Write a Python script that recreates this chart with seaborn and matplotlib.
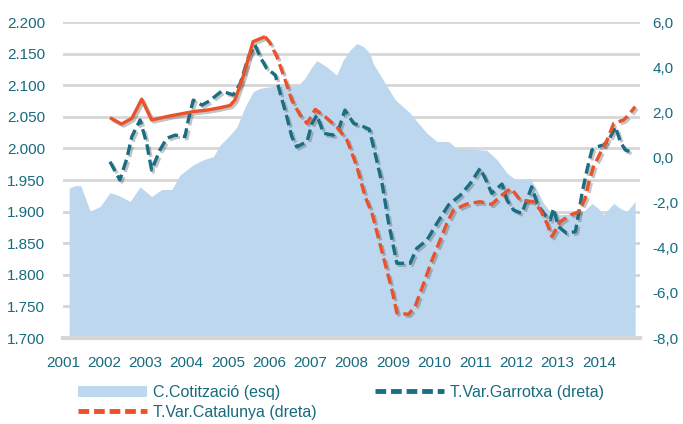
"""
Quota de cotitzacio (esq) i taxes de variacio Garrotxa / Catalunya (dreta)
2001 - 2014
"""

# ==========================================================
# IMPORT LIBRARIES
# ==========================================================

import pandas as pd
import matplotlib.pyplot as plt
import matplotlib.patheffects as pe
from matplotlib.patches import Patch
from matplotlib.lines import Line2D
from matplotlib.ticker import MultipleLocator
import seaborn as sns

# ==========================================================
# DATA
# ==========================================================

# C.Cotitzacio - left axis
cot_year = [2001.15, 2001.29, 2001.43, 2001.66, 2001.90, 2002.14, 2002.34, 2002.63,
            2002.87, 2003.15, 2003.40, 2003.64, 2003.84, 2004.16, 2004.41, 2004.65,
            2004.81, 2005.05, 2005.22, 2005.42, 2005.62, 2005.78, 2006.07, 2006.31,
            2006.51, 2006.71, 2006.87, 2007.04, 2007.16, 2007.40, 2007.64, 2007.80,
            2007.97, 2008.13, 2008.29, 2008.45, 2008.52, 2008.77, 2009.06, 2009.42,
            2009.62, 2009.83, 2010.07, 2010.35, 2010.56, 2010.88, 2011.28, 2011.53,
            2011.77, 2011.93, 2012.09, 2012.33, 2012.50, 2012.66, 2012.82, 2013.06,
            2013.39, 2013.63, 2013.83, 2013.99, 2014.11, 2014.36, 2014.52, 2014.68,
            2014.88]
cot_value = [1.937, 1.941, 1.941, 1.901, 1.908, 1.930, 1.926, 1.916,
             1.939, 1.924, 1.935, 1.935, 1.958, 1.974, 1.982, 1.987,
             2.005, 2.021, 2.034, 2.066, 2.090, 2.095, 2.098, 2.103,
             2.098, 2.100, 2.111, 2.129, 2.139, 2.129, 2.116, 2.140,
             2.156, 2.166, 2.161, 2.150, 2.135, 2.108, 2.077, 2.056,
             2.040, 2.024, 2.011, 2.011, 2.000, 1.999, 1.997, 1.982,
             1.961, 1.953, 1.950, 1.953, 1.934, 1.913, 1.900, 1.895,
             1.897, 1.900, 1.913, 1.905, 1.895, 1.913, 1.905, 1.900,
             1.916]

# T.Var.Garrotxa - right axis
gar_year = [2002.14, 2002.38, 2002.55, 2002.67, 2002.87, 2003.03, 2003.15, 2003.35,
            2003.52, 2003.72, 2003.96, 2004.04, 2004.16, 2004.37, 2004.55, 2004.85,
            2005.13, 2005.30, 2005.50, 2005.66, 2005.78, 2005.94, 2006.15, 2006.27,
            2006.43, 2006.55, 2006.67, 2006.92, 2007.04, 2007.16, 2007.32, 2007.56,
            2007.68, 2007.84, 2008.05, 2008.29, 2008.43, 2008.57, 2008.74, 2008.90,
            2009.10, 2009.42, 2009.58, 2009.83, 2010.07, 2010.35, 2010.64, 2010.88,
            2011.12, 2011.28, 2011.40, 2011.53, 2011.65, 2011.77, 2011.93, 2012.13,
            2012.37, 2012.50, 2012.66, 2012.82, 2012.90, 2013.02, 2013.22, 2013.43,
            2013.51, 2013.59, 2013.71, 2013.83, 2013.95, 2014.11, 2014.24, 2014.40,
            2014.52, 2014.64, 2014.84]
gar_value = [-0.19, -1.00, -0.04, 0.92, 1.66, 0.63, -0.56, 0.33,
             0.85, 0.99, 0.92, 1.66, 2.54, 2.32, 2.50, 2.94,
             2.77, 3.28, 4.46, 4.98, 4.46, 3.95, 3.65, 2.84,
             1.80, 0.92, 0.47, 0.70, 1.51, 1.88, 1.07, 0.99,
             1.21, 2.10, 1.51, 1.36, 1.25, 0.18, -1.15, -2.92,
             -4.69, -4.69, -4.03, -3.66, -2.92, -2.11, -1.67, -1.15,
             -0.48, -1.08, -1.59, -1.37, -1.18, -1.89, -2.33, -2.48,
             -1.30, -2.03, -2.48, -2.77, -2.26, -3.07, -3.36, -3.29,
             -2.48, -1.59, -0.56, 0.33, 0.47, 0.55, 0.77, 1.36,
             0.70, 0.33, 0.21]

# T.Var.Catalunya - right axis
cat_year = [2002.14, 2002.42, 2002.67, 2002.91, 2003.15, 2003.60, 2004.16, 2004.50,
            2004.80, 2005.05, 2005.17, 2005.37, 2005.61, 2005.90, 2006.02, 2006.19,
            2006.39, 2006.55, 2006.75, 2006.92, 2007.12, 2007.36, 2007.64, 2007.89,
            2008.13, 2008.33, 2008.50, 2008.77, 2008.98, 2009.10, 2009.38, 2009.54,
            2009.75, 2009.95, 2010.15, 2010.31, 2010.47, 2010.80, 2011.12, 2011.40,
            2011.61, 2011.87, 2012.09, 2012.41, 2012.58, 2012.74, 2012.86, 2013.06,
            2013.31, 2013.51, 2013.67, 2013.75, 2013.87, 2014.03, 2014.20, 2014.36,
            2014.60, 2014.72, 2014.88]
cat_value = [1.76, 1.48, 1.73, 2.58, 1.66, 1.84, 2.03, 2.10,
             2.20, 2.30, 2.54, 3.58, 5.13, 5.35, 5.08, 4.46,
             3.43, 2.54, 1.88, 1.51, 2.13, 1.80, 1.36, 0.77,
             -0.41, -1.74, -2.50, -4.40, -5.87, -6.89, -6.95, -6.61,
             -5.58, -4.55, -3.66, -2.92, -2.33, -2.06, -1.96, -2.08,
             -1.72, -1.37, -1.89, -1.96, -2.33, -2.92, -3.51, -2.85,
             -2.55, -2.41, -1.81, -1.15, -0.41, 0.18, 0.77, 1.51,
             1.66, 1.88, 2.25]

years = list(range(2001, 2015))
left_ticks = [1.70, 1.75, 1.80, 1.85, 1.90, 1.95, 2.00, 2.05, 2.10, 2.15, 2.20]
left_labels = ["1.700", "1.750", "1.800", "1.850", "1.900", "1.950",
               "2.000", "2.050", "2.100", "2.150", "2.200"]
right_ticks = [-8, -6, -4, -2, 0, 2, 4, 6]
right_labels = ["-8,0", "-6,0", "-4,0", "-2,0", "0,0", "2,0", "4,0", "6,0"]

df_cot = pd.DataFrame({"year": cot_year, "value": cot_value})
df_gar = pd.DataFrame({"year": gar_year, "value": gar_value})
df_cat = pd.DataFrame({"year": cat_year, "value": cat_value})

# ==========================================================
# STYLE
# ==========================================================

sns.set_style("white")
plt.rcParams["font.family"] = ["Liberation Sans", "DejaVu Sans"]

AREA = "#bdd7ee"
TEAL = "#1a6e82"
ORANGE = "#e9522b"
TEXT = "#176b7e"
GRID = "#d6d6d6"

shadow = [pe.SimpleLineShadow(offset=(1.5, -1.5), shadow_color="#555555", alpha=0.35),
          pe.Normal()]

# ==========================================================
# FIGURE
# ==========================================================

fig = plt.figure(figsize=(6.83, 4.24), dpi=100)
ax = fig.add_axes([0.0922, 0.2028, 0.845, 0.7453])
ax2 = ax.twinx()

# area (left axis)
ax.fill_between(df_cot["year"], df_cot["value"], 1.70, color=AREA, linewidth=0, zorder=2)

ax.set_xlim(2001, 2015)
ax.set_ylim(1.70, 2.20)
ax.set_yticks(left_ticks)
ax.set_yticklabels(left_labels)
ax.grid(axis="y", color=GRID, linewidth=2, zorder=0)
ax.grid(axis="x", visible=False)
ax.set_axisbelow(True)

ax.set_xticks(years)
ax.set_xticklabels([str(y) for y in years])
ax.xaxis.set_minor_locator(MultipleLocator(0.25))

# lines (right axis)
sns.lineplot(data=df_gar, x="year", y="value", ax=ax2, color=TEAL,
             linewidth=2.4, estimator=None, sort=False)

# Catalunya: early stretch reads as a continuous stroke, rest dashed
split = cat_year.index(2005.90)
sns.lineplot(data=df_cat.iloc[:split + 1], x="year", y="value", ax=ax2, color=ORANGE,
             linewidth=2.4, estimator=None, sort=False)
sns.lineplot(data=df_cat.iloc[split:], x="year", y="value", ax=ax2, color=ORANGE,
             linewidth=2.4, estimator=None, sort=False)

lines = ax2.get_lines()
lines[0].set_dashes((3.2, 1.5))
lines[2].set_dashes((3.2, 1.5))
for ln in lines:
    ln.set_path_effects(shadow)
    ln.set_solid_capstyle("butt")

ax2.set_ylim(-8, 6)
ax2.set_yticks(right_ticks)
ax2.set_yticklabels(right_labels)
ax2.set_xlim(2001, 2015)
ax2.set_xlabel("")
ax2.set_ylabel("")
ax.set_xlabel("")
ax.set_ylabel("")

# axes cosmetics
for a in (ax, ax2):
    for side in ("top", "left", "right"):
        a.spines[side].set_visible(False)
ax2.spines["bottom"].set_visible(False)
ax.spines["bottom"].set_color(GRID)
ax.spines["bottom"].set_linewidth(3)

ax.tick_params(axis="y", length=0, pad=13, labelsize=11, labelcolor=TEXT)
ax2.tick_params(axis="y", length=0, pad=9, labelsize=11, labelcolor=TEXT)
ax.tick_params(axis="x", which="both", direction="out", length=5, width=2,
               color=GRID, pad=8, labelsize=11, labelcolor=TEXT)

# ==========================================================
# LEGEND
# ==========================================================

h_cot = Patch(facecolor=AREA, edgecolor="none", label="C.Cotització (esq)")
h_cat = Line2D([0], [0], color=ORANGE, linewidth=3.5, dashes=(2.2, 1.0),
               label="T.Var.Catalunya (dreta)")
h_gar = Line2D([0], [0], color=TEAL, linewidth=3.5, dashes=(2.2, 1.0),
               label="T.Var.Garrotxa (dreta)")

leg_kw = dict(loc="upper left", frameon=False, fontsize=11.5, handlelength=4.3,
              handletextpad=0.4, borderpad=0, borderaxespad=0, labelspacing=0.3,
              labelcolor=TEXT)
leg1 = fig.legend(handles=[h_cot, h_cat], bbox_to_anchor=(0.114, 0.092), **leg_kw)
leg2 = fig.legend(handles=[h_gar], bbox_to_anchor=(0.549, 0.092), **leg_kw)

plt.savefig("out.png", dpi=100)
